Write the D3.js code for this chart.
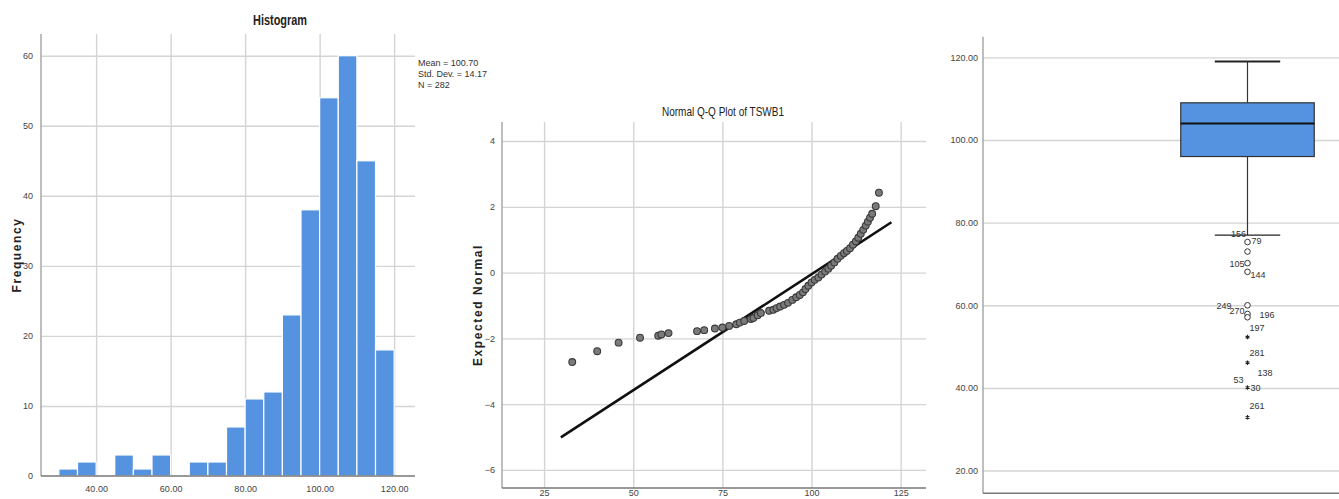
<!DOCTYPE html>
<html>
<head>
<meta charset="utf-8">
<script src="https://cdn.jsdelivr.net/npm/d3@7"></script>
<style>
  body { margin: 0; background: #fff; }
  svg { display: block; }
  text { font-family: "Liberation Sans Narrow", "Arial Narrow", "Liberation Sans", sans-serif; }
  .tick text { fill: #444; font-size: 9px; }
  .grid line { stroke: #d4d4d4; stroke-width: 1.4; }
  .grid path { display: none; }
  .ticks path, .ticks line { display: none; }
  .axlabel { font-family: "Liberation Sans", Arial, sans-serif; font-weight: bold; font-size: 12px; letter-spacing: 1.6px; fill: #222; }
</style>
</head>
<body>
<svg width="1339" height="499"></svg>
<script>
// histogram: lower bin edges (width 5) and counts
var binStarts = [30, 35, 40, 45, 50, 55, 60, 65, 70, 75, 80, 85, 90, 95, 100, 105, 110, 115];
var binCounts = [1, 2, 0, 3, 1, 3, 0, 2, 2, 7, 11, 12, 23, 38, 54, 60, 45, 18];
var histXTicks = [40, 60, 80, 100, 120];
var histYTicks = [0, 10, 20, 30, 40, 50, 60];
var histStats = ["Mean = 100.70", "Std. Dev. = 14.17", "N = 282"];

// normal Q-Q plot: observed value, expected normal
var qqObserved = [32.9, 39.9, 45.9, 51.9, 57.0, 57.9, 59.9, 67.9, 69.9, 72.9, 75.0, 76.9, 78.9, 79.9, 81.1,
  83.0, 83.7, 84.9, 85.8, 88.1, 89.3, 90.2, 91.2, 92.3, 93.4, 94.6, 95.7, 96.7, 97.6, 98.3, 99.1,
  100.0, 100.9, 101.9, 102.8, 103.8, 104.7, 105.5, 106.4, 107.3, 108.2, 109.1, 109.9, 110.8, 111.6,
  112.4, 113.1, 113.8, 114.5, 115.2, 115.8, 116.4, 117.0, 118.0, 118.9];
var qqExpected = [-2.72, -2.39, -2.13, -1.98, -1.92, -1.88, -1.84, -1.78, -1.75, -1.70, -1.67, -1.62, -1.57, -1.52, -1.47,
  -1.41, -1.38, -1.30, -1.23, -1.16, -1.13, -1.08, -1.03, -0.98, -0.92, -0.83, -0.75, -0.68, -0.60, -0.50, -0.40,
  -0.30, -0.22, -0.15, -0.06, 0.03, 0.12, 0.21, 0.31, 0.42, 0.51, 0.59, 0.66, 0.74, 0.85,
  0.95, 1.06, 1.18, 1.30, 1.43, 1.55, 1.67, 1.79, 2.02, 2.43];
var qqLineX = [29.7, 122.4];
var qqMean = 100.70, qqSd = 14.17;
var qqXTicks = [25, 50, 75, 100, 125];
var qqYTicks = [-6, -4, -2, 0, 2, 4];

// boxplot
var boxStats = { min: 77, q1: 96, median: 104, q3: 109, max: 119 };
var outlierValues = [75.3, 73.0, 70.2, 68.1, 60.0, 57.9, 57.1, 52.3, 46.1, 40.1, 32.9];
var outlierKinds = ["o", "o", "o", "o", "o", "o", "o", "*", "*", "*", "*"];
var outlierLabels = ["156", "79", "105", "144", "249", "270", "196", "197", "281", "138", "53", "30", "261"];
var outlierLabelValues = [77, 75.3, 70.2, 68.1, 60.0, 60.0, 57.9, 57.1, 46.1, 46.1, 40.1, 40.1, 32.9];
var boxYTicks = [20, 40, 60, 80, 100, 120];

// label placement (pixels): dx, dy, anchor
var labelLayout = [[-9, -1, "middle"], [4, -1, "start"], [-3, 1, "end"], [3, 3, "start"], [-16, 1, "end"],
  [-3, 6, "end"], [12, 1, "start"], [2, 11, "start"], [2, -10, "start"], [10, 10, "start"],
  [-4, -8, "end"], [3, 0, "start"], [2, -11, "start"]];

var barColor = "#5593e1";
var svg = d3.select("svg");

drawHistogram();
drawQQ();
drawBox();

function axisLines(g, x0, x1, y0, y1) {
  g.append("line").attr("x1", x0).attr("x2", x0).attr("y1", y0).attr("y2", y1)
    .style("stroke", "#a8a8a8").style("stroke-width", 1.5);
  g.append("line").attr("x1", x0).attr("x2", x1).attr("y1", y1).attr("y2", y1)
    .style("stroke", "#777").style("stroke-width", 1.5);
}

function drawHistogram() {
  var left = 41, right = 415, top = 34, bottom = 476;
  var x = d3.scaleLinear().domain([25.2, 125.6]).range([left, right]);
  var y = d3.scaleLinear().domain([0, 63.1]).range([bottom, top]);
  var g = svg.append("g");

  g.append("g").attr("class", "grid").attr("transform", "translate(0," + bottom + ")")
    .call(d3.axisBottom(x).tickValues(histXTicks).tickSize(-(bottom - top)).tickFormat(""));
  g.append("g").attr("class", "grid").attr("transform", "translate(" + left + ",0)")
    .call(d3.axisLeft(y).tickValues(histYTicks.slice(1)).tickSize(-(right - left)).tickFormat(""));

  g.selectAll("rect.bar")
    .data(binStarts)
    .enter()
    .append("rect")
    .attr("class", "bar")
    .attr("x", function (d) { return x(d); })
    .attr("width", function (d) { return x(d + 5) - x(d); })
    .attr("y", function (d, i) { return y(binCounts[i]); })
    .attr("height", function (d, i) { return y(0) - y(binCounts[i]); })
    .style("fill", barColor)
    .style("stroke", "#fff")
    .style("stroke-width", 1.2);

  axisLines(g, left, right, top, bottom);

  g.append("g").attr("class", "ticks").attr("transform", "translate(0," + bottom + ")")
    .call(d3.axisBottom(x).tickValues(histXTicks).tickSize(0).tickPadding(10).tickFormat(d3.format(".2f")));
  g.append("g").attr("class", "ticks").attr("transform", "translate(" + left + ",0)")
    .call(d3.axisLeft(y).tickValues(histYTicks).tickSize(0).tickPadding(8).tickFormat(d3.format("d")));

  g.append("text").attr("x", 253).attr("y", 25)
    .attr("textLength", 54).attr("lengthAdjust", "spacingAndGlyphs")
    .style("font-size", "15px").style("font-weight", "bold").style("fill", "#222").text("Histogram");

  g.selectAll("text.stat")
    .data(histStats)
    .enter()
    .append("text")
    .attr("class", "stat")
    .attr("x", 418)
    .attr("y", function (d, i) { return 66 + i * 11; })
    .style("font-size", "9px").style("fill", "#333")
    .text(function (d) { return d; });

  g.append("text").attr("class", "axlabel")
    .attr("transform", "translate(21,255) rotate(-90)")
    .style("text-anchor", "middle").text("Frequency");
}

function drawQQ() {
  var left = 502, right = 926, top = 122, bottom = 488;
  var x = d3.scaleLinear().domain([13.2, 132.1]).range([left, right]);
  var y = d3.scaleLinear().domain([-6.55, 4.58]).range([bottom, top]);
  var g = svg.append("g");

  g.append("g").attr("class", "grid").attr("transform", "translate(0," + bottom + ")")
    .call(d3.axisBottom(x).tickValues(qqXTicks).tickSize(-(bottom - top)).tickFormat(""));
  g.append("g").attr("class", "grid").attr("transform", "translate(" + left + ",0)")
    .call(d3.axisLeft(y).tickValues(qqYTicks).tickSize(-(right - left)).tickFormat(""));

  axisLines(g, left, right, top, bottom);

  g.append("g").attr("class", "ticks").attr("transform", "translate(0," + bottom + ")")
    .call(d3.axisBottom(x).tickValues(qqXTicks).tickSize(0).tickPadding(2).tickFormat(d3.format("d")));
  g.append("g").attr("class", "ticks").attr("transform", "translate(" + left + ",0)")
    .call(d3.axisLeft(y).tickValues(qqYTicks).tickSize(0).tickPadding(7).tickFormat(d3.format("d")));

  g.append("line")
    .attr("x1", x(qqLineX[0])).attr("y1", y((qqLineX[0] - qqMean) / qqSd))
    .attr("x2", x(qqLineX[1])).attr("y2", y((qqLineX[1] - qqMean) / qqSd))
    .style("stroke", "#111").style("stroke-width", 2.6);

  g.selectAll("circle.pt")
    .data(qqObserved)
    .enter()
    .append("circle")
    .attr("class", "pt")
    .attr("cx", function (d) { return x(d); })
    .attr("cy", function (d, i) { return y(qqExpected[i]); })
    .attr("r", 3.4)
    .style("fill", "#7a7a7a")
    .style("stroke", "#3a3a3a")
    .style("stroke-width", 1.1);

  g.append("text").attr("x", 662).attr("y", 116)
    .attr("textLength", 122).attr("lengthAdjust", "spacingAndGlyphs")
    .style("font-size", "13px").style("fill", "#222").text("Normal Q-Q Plot of TSWB1");

  g.append("text").attr("class", "axlabel")
    .attr("transform", "translate(482,305) rotate(-90)")
    .style("text-anchor", "middle").text("Expected Normal");
}

function drawBox() {
  var left = 983, right = 1339, top = 36.7, bottom = 493.3;
  var y = d3.scaleLinear().domain([14.5, 125]).range([bottom, top]);
  var x = d3.scaleBand().domain(["TSWB1"]).range([1114, 1381]);
  var cx = x("TSWB1") + x.bandwidth() / 2;
  var half = x.bandwidth() / 4, capHalf = half * 0.49;
  var g = svg.append("g");

  g.append("g").attr("class", "grid").attr("transform", "translate(" + left + ",0)")
    .call(d3.axisLeft(y).tickValues(boxYTicks).tickSize(-(right - left)).tickFormat(""));

  axisLines(g, left, right, top, bottom);

  g.append("g").attr("class", "ticks").attr("transform", "translate(" + left + ",0)")
    .call(d3.axisLeft(y).tickValues(boxYTicks).tickSize(0).tickPadding(5).tickFormat(d3.format(".2f")));

  // whiskers
  g.append("line").attr("x1", cx).attr("x2", cx).attr("y1", y(boxStats.max)).attr("y2", y(boxStats.min))
    .style("stroke", "#333").style("stroke-width", 1.2);
  g.append("line").attr("x1", cx - capHalf).attr("x2", cx + capHalf)
    .attr("y1", y(boxStats.max)).attr("y2", y(boxStats.max))
    .style("stroke", "#222").style("stroke-width", 2.2);
  g.append("line").attr("x1", cx - capHalf).attr("x2", cx + capHalf)
    .attr("y1", y(boxStats.min)).attr("y2", y(boxStats.min))
    .style("stroke", "#222").style("stroke-width", 1.3);

  g.append("rect")
    .attr("x", cx - half).attr("width", half * 2)
    .attr("y", y(boxStats.q3)).attr("height", y(boxStats.q1) - y(boxStats.q3))
    .style("fill", barColor).style("stroke", "#333").style("stroke-width", 1.2);
  g.append("line").attr("x1", cx - half).attr("x2", cx + half)
    .attr("y1", y(boxStats.median)).attr("y2", y(boxStats.median))
    .style("stroke", "#111").style("stroke-width", 2);

  g.selectAll("circle.out")
    .data(outlierValues.filter(function (d, i) { return outlierKinds[i] === "o"; }))
    .enter()
    .append("circle")
    .attr("class", "out")
    .attr("cx", cx)
    .attr("cy", function (d) { return y(d); })
    .attr("r", 2.8)
    .style("fill", "#fff")
    .style("stroke", "#333")
    .style("stroke-width", 1);

  g.selectAll("path.star")
    .data(outlierValues.filter(function (d, i) { return outlierKinds[i] === "*"; }))
    .enter()
    .append("path")
    .attr("class", "star")
    .attr("transform", function (d) { return "translate(" + cx + "," + y(d) + ")"; })
    .attr("d", d3.symbol().type(d3.symbolAsterisk).size(14))
    .style("stroke", "#222")
    .style("stroke-width", 1.1);

  g.selectAll("text.olabel")
    .data(outlierLabels)
    .enter()
    .append("text")
    .attr("class", "olabel")
    .attr("x", function (d, i) { return cx + labelLayout[i][0]; })
    .attr("y", function (d, i) { return y(outlierLabelValues[i]) + labelLayout[i][1] + 3; })
    .style("text-anchor", function (d, i) { return labelLayout[i][2]; })
    .style("font-size", "9px").style("fill", "#333")
    .text(function (d) { return d; });
}
</script>
</body>
</html>
